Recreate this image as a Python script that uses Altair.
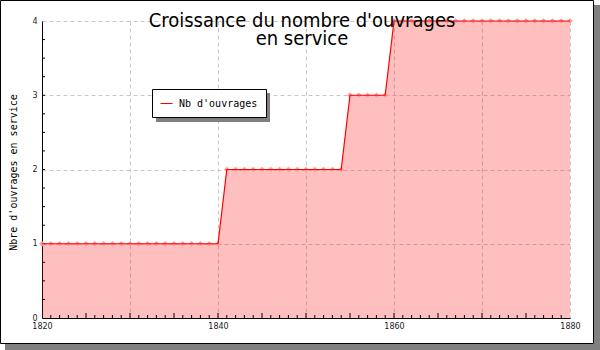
import altair as alt
import pandas as pd

# ---- data ----
years = [1820, 1821, 1822, 1823, 1824, 1825, 1826, 1827, 1828, 1829,
         1830, 1831, 1832, 1833, 1834, 1835, 1836, 1837, 1838, 1839,
         1840, 1841, 1842, 1843, 1844, 1845, 1846, 1847, 1848, 1849,
         1850, 1851, 1852, 1853, 1854, 1855, 1856, 1857, 1858, 1859,
         1860, 1861, 1862, 1863, 1864, 1865, 1866, 1867, 1868, 1869,
         1870, 1871, 1872, 1873, 1874, 1875, 1876, 1877, 1878, 1879, 1880]
counts = [1, 1, 1, 1, 1, 1, 1, 1, 1, 1,
          1, 1, 1, 1, 1, 1, 1, 1, 1, 1,
          1, 2, 2, 2, 2, 2, 2, 2, 2, 2,
          2, 2, 2, 2, 2, 3, 3, 3, 3, 3,
          4, 4, 4, 4, 4, 4, 4, 4, 4, 4,
          4, 4, 4, 4, 4, 4, 4, 4, 4, 4, 4]
series_name = "Nb d'ouvrages"

title_lines = ["Croissance du nombre d'ouvrages", "en service"]
y_title = "Nbre d'ouvrages en service"

x_grid_values = [1820, 1830, 1840, 1850, 1860, 1870, 1880]
y_values = [0, 1, 2, 3, 4]
x_minor_ticks = [1821, 1822, 1823, 1824, 1826, 1827, 1828, 1829,
                 1831, 1832, 1833, 1834, 1836, 1837, 1838, 1839,
                 1841, 1842, 1843, 1844, 1846, 1847, 1848, 1849,
                 1851, 1852, 1853, 1854, 1856, 1857, 1858, 1859,
                 1861, 1862, 1863, 1864, 1866, 1867, 1868, 1869,
                 1871, 1872, 1873, 1874, 1876, 1877, 1878, 1879]
x_major_ticks = [1825, 1830, 1835, 1840, 1845, 1850, 1855, 1860,
                 1865, 1870, 1875]
y_minor_ticks = [0.25, 0.5, 0.75, 1, 1.25, 1.5, 1.75, 2, 2.25, 2.5,
                 2.75, 3, 3.25, 3.5, 3.75]

df = pd.DataFrame({"year": years, "count": counts,
                   "series": [series_name] * len(years)})
df_xmin = pd.DataFrame({"year": x_minor_ticks})
df_xmaj = pd.DataFrame({"year": x_major_ticks})
df_ymin = pd.DataFrame({"count": y_minor_ticks})

W, H = 528, 297
TICK_FONT = "DejaVu Sans"
MONO = "DejaVu Sans Mono"
MARK_COLOR = "#ff9a9a"

x_enc = alt.X(
    "year:Q",
    scale=alt.Scale(domain=[1820, 1880], nice=False, zero=False),
    axis=alt.Axis(
        values=x_grid_values,
        labelExpr="datum.value % 20 == 0 ? datum.label : ''",
        format="d",
        grid=True, gridDash=[4, 3], gridColor="#c8c8c8", gridWidth=1,
        ticks=False, domainColor="black", domainWidth=1,
        labelFont=TICK_FONT, labelFontSize=8, labelColor="#222222",
        labelPadding=4, labelFlush=False, title=None,
    ),
)
y_enc = alt.Y(
    "count:Q",
    scale=alt.Scale(domain=[0, 4], nice=False, zero=True),
    axis=alt.Axis(
        values=y_values, format="d",
        grid=True, gridDash=[4, 3], gridColor="#c8c8c8", gridWidth=1,
        ticks=False, domainColor="black", domainWidth=1,
        labelFont=TICK_FONT, labelFontSize=8, labelColor="#222222",
        labelPadding=5, labelFlush=False,
        title=y_title, titleFont=MONO, titleFontSize=10,
        titleFontWeight="normal", titleColor="black",
        titleX=-26, titleY=151, titleAngle=-90,
        titleAlign="center", titleBaseline="alphabetic",
    ),
)

base = alt.Chart(df)

area = base.mark_area(color="red", opacity=0.25, interpolate="linear").encode(
    x=x_enc, y=y_enc)

points = base.mark_point(shape="diamond", filled=True, size=32,
                         color=MARK_COLOR, opacity=1).encode(x=x_enc, y=y_enc)

line = base.mark_line(strokeWidth=1.2).encode(
    x=x_enc, y=y_enc,
    color=alt.Color(
        "series:N",
        scale=alt.Scale(domain=[series_name], range=["red"]),
        legend=alt.Legend(
            title=None, orient="none", legendX=110, legendY=68,
            direction="vertical", fillColor="white", strokeColor="black",
            padding=8, cornerRadius=0,
            labelFont=MONO, labelFontSize=10, labelColor="black",
            labelOffset=6, symbolType="stroke", symbolSize=144,
            symbolStrokeWidth=1, symbolStrokeColor="red",
        ),
    ),
)

xt_minor = alt.Chart(df_xmin).mark_rule(color="black", strokeWidth=1).encode(
    x=x_enc, y=alt.value(H), y2=alt.value(H - 3))
xt_major = alt.Chart(df_xmaj).mark_rule(color="black", strokeWidth=1).encode(
    x=x_enc, y=alt.value(H), y2=alt.value(H - 5))
yt_minor = alt.Chart(df_ymin).mark_rule(color="black", strokeWidth=1).encode(
    y=y_enc, x=alt.value(0), x2=alt.value(3))

# decorations: outer frame with drop shadow, legend shadow
deco = alt.Chart(pd.DataFrame({"k": [0]}))
frame = deco.mark_rect(fillOpacity=0, stroke="black", strokeWidth=1).encode(
    x=alt.value(-41.5), x2=alt.value(551.5), y=alt.value(-20.5), y2=alt.value(322.5))
shadow_r = deco.mark_rect(color="#808080").encode(
    x=alt.value(552), x2=alt.value(558), y=alt.value(-16), y2=alt.value(329))
shadow_b = deco.mark_rect(color="#808080").encode(
    x=alt.value(-37), x2=alt.value(558), y=alt.value(323), y2=alt.value(329))
legend_shadow = deco.mark_rect(color="#808080").encode(
    x=alt.value(114), x2=alt.value(228), y=alt.value(72), y2=alt.value(101))

title = deco.mark_text(
    text=title_lines, font="DejaVu Sans Condensed, Liberation Sans Narrow, sans-serif",
    fontSize=20, color="black", align="center", baseline="alphabetic",
    lineHeight=17.5,
).encode(x=alt.value(260), y=alt.value(6))

chart = alt.layer(
    area, xt_minor, xt_major, yt_minor, points, line,
    frame, shadow_r, shadow_b, legend_shadow, title,
).properties(
    width=W, height=H,
    padding={"left": 42, "top": 21, "right": 30, "bottom": 32},
    autosize=alt.AutoSizeParams(type="none"),
    background="white",
).configure_view(stroke=None)

chart.save("out.html", embed_options={"renderer": "svg", "actions": False})
